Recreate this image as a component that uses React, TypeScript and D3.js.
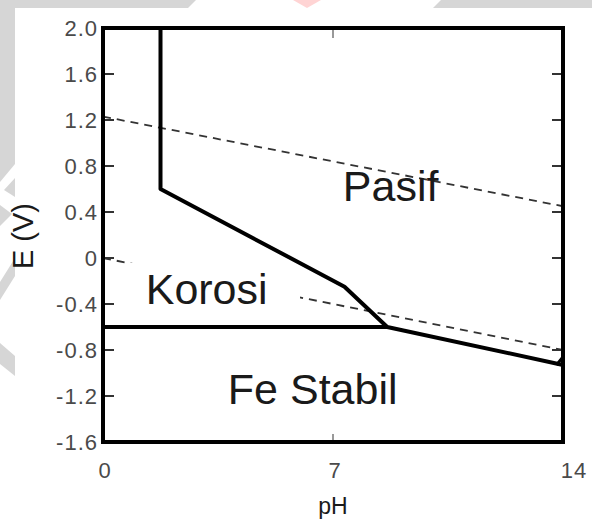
import React from "react";
import * as d3 from "d3";

// chart size and plot frame
const W = 592,
  H = 522;
const margin = { top: 28, right: 26, bottom: 80, left: 103 };

// axis ticks
const xTicks = [0, 7, 14];
const yTicks = [2.0, 1.6, 1.2, 0.8, 0.4, 0, -0.4, -0.8, -1.2, -1.6];
const yTickLabels = ["2.0", "1.6", "1.2", "0.8", "0.4", "0", "-0.4", "-0.8", "-1.2", "-1.6"];

// boundary lines [pH, E]
const corrosionBoundary: [number, number][] = [
  [1.75, 2.0],
  [1.75, 0.6],
  [7.35, -0.25],
  [8.65, -0.6],
  [14, -0.93],
];
const ironBoundary: [number, number][] = [
  [0, -0.6],
  [8.65, -0.6],
];
const edgeWedge: [number, number][] = [
  [13.8, -0.93],
  [14, -0.86],
];
const waterUpper: [number, number][] = [
  [0, 1.23],
  [14, 0.45],
];
const waterLower: [number, number][] = [
  [0, 0],
  [14, -0.8],
];

// region names and where they sit [pH, E]
const regionNames = ["Pasif", "Korosi", "Fe Stabil"];
const regionPos: [number, number][] = [
  [7.3, 0.5],
  [1.3, -0.4],
  [3.8, -1.27],
];

const x = d3.scaleLinear().domain([0, 14]).range([margin.left, W - margin.right - 3]);
const y = d3.scaleLinear().domain([-1.6, 2.0]).range([H - margin.bottom, margin.top]);
const line = d3
  .line<[number, number]>()
  .x((d) => x(d[0]))
  .y((d) => y(d[1]));

const font = "'Liberation Sans', Arial, sans-serif";

export default function App() {
  const x0 = x(0),
    x1 = x(14),
    yTop = y(2.0),
    yBot = y(-1.6);
  return (
    <svg
      width={W}
      height={H}
      style={{ position: "absolute", left: 0, top: 0, display: "block", background: "#fff" }}
    >
      {/* faint watermark shapes behind the figure */}
      <g fill="#d6d6d6">
        <polygon points="0,0 196,0 188,8 15,8 15,164 0,182" />
        <polygon points="441,0 592,0 592,8 433,8" />
        <polygon points="15,178 15,197 4,190" />
        <polygon points="15,258 15,276 0,300 0,282" />
        <polygon points="0,343 15,356 15,376 0,364" />
        <polygon points="0,205 12,214 0,226" />
      </g>
      <polygon points="293,0 321,0 307,8" fill="#ffd4d4" />

      {/* water stability lines */}
      <g fill="none" stroke="#333" strokeWidth={1.8} strokeDasharray="8,6">
        <path d={line(waterUpper) || ""} />
        <path d={line(waterLower) || ""} />
      </g>

      {/* label backdrop for Korosi */}
      <rect x={130} y={263} width={170} height={38} fill="#fff" />

      {/* ticks */}
      <g stroke="#333" strokeWidth={2}>
        {yTicks.map((t) => (
          <g key={t}>
            <line x1={x0} x2={x0 + 11} y1={y(t)} y2={y(t)} />
            <line x1={x1 - 11} x2={x1} y1={y(t)} y2={y(t)} />
          </g>
        ))}
        <line x1={x(7)} x2={x(7)} y1={yTop} y2={yTop + 10} stroke="#777" strokeWidth={1.5} />
        <line x1={x(7)} x2={x(7)} y1={yBot} y2={yBot - 8} stroke="#777" strokeWidth={1.5} />
      </g>

      {/* boundaries */}
      <g fill="none" stroke="#000" strokeWidth={4} strokeLinejoin="round">
        <path d={line(corrosionBoundary) || ""} />
        <path d={line(ironBoundary) || ""} />
        <path d={line(edgeWedge) || ""} strokeWidth={3} />
      </g>

      {/* frame */}
      <rect
        x={x0}
        y={yTop}
        width={x1 - x0}
        height={yBot - yTop}
        fill="none"
        stroke="#000"
        strokeWidth={4}
      />

      {/* tick labels */}
      <g fontFamily={font} fontSize={22} fill="#4a4a4a" letterSpacing={1}>
        {yTicks.map((t, i) => (
          <text key={t} x={x0 - 5} y={y(t)} dy="0.36em" textAnchor="end">
            {yTickLabels[i]}
          </text>
        ))}
        {xTicks.map((t) => (
          <text key={t} x={x(t) + (t === 14 ? 11 : 2)} y={yBot + 36} textAnchor="middle">
            {t}
          </text>
        ))}
      </g>

      {/* region names */}
      <g fontFamily={font} fontSize={43} fill="#1a1a1a">
        {regionNames.map((n, i) => (
          <text key={n} x={x(regionPos[i][0])} y={y(regionPos[i][1])}>
            {n}
          </text>
        ))}
      </g>

      {/* axis titles */}
      <text fontFamily={font} fontSize={23} fill="#1a1a1a" textAnchor="middle" x={x(7)} y={H - 8}>
        pH
      </text>
      <text
        fontFamily={font}
        fontSize={29}
        fill="#1a1a1a"
        textAnchor="middle"
        transform={`translate(33,236) rotate(-90)`}
      >
        E (V)
      </text>
    </svg>
  );
}
